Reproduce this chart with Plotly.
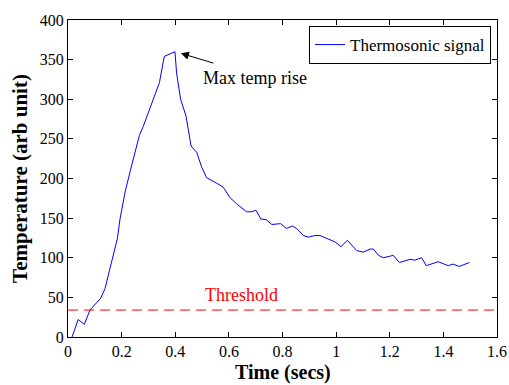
import plotly.graph_objects as go

time_s = [0.015, 0.038, 0.061, 0.082, 0.122, 0.138, 0.154, 0.169, 0.184, 0.194,
          0.213, 0.231, 0.25, 0.266, 0.281, 0.306, 0.341, 0.359, 0.399, 0.405,
          0.42, 0.44, 0.459, 0.48, 0.499, 0.517, 0.536, 0.555, 0.579, 0.604,
          0.629, 0.666, 0.685, 0.701, 0.719, 0.739, 0.76, 0.793, 0.815, 0.837,
          0.853, 0.878, 0.896, 0.921, 0.94, 0.965, 0.996, 1.018, 1.042, 1.077,
          1.101, 1.127, 1.139, 1.158, 1.176, 1.213, 1.236, 1.276, 1.294, 1.319,
          1.336, 1.381, 1.418, 1.436, 1.459, 1.497]
signal = [0, 22, 16, 34, 49, 61, 83, 103, 124, 149,
          183, 208, 233, 254, 266, 289, 321, 354, 360, 333,
          300, 279, 241, 233, 214, 201, 198, 194, 189, 176,
          168, 158, 158, 160, 149, 148, 142, 143, 137, 140,
          137, 128, 126, 128, 128, 124, 120, 114, 122, 109,
          107, 111, 111, 103, 100, 103, 94, 98, 97, 100,
          90, 95, 90, 92, 89, 94]
threshold_x = [0, 1.6]
threshold_y = [34, 34]
x_ticks = [0, 0.2, 0.4, 0.6, 0.8, 1, 1.2, 1.4, 1.6]
y_ticks = [0, 50, 100, 150, 200, 250, 300, 350, 400]

FONT = "Liberation Serif"

fig = go.Figure()
fig.add_trace(go.Scatter(x=time_s, y=signal, mode="lines", name="Thermosonic signal",
                         line=dict(color="#0000ff", width=1)))
fig.add_trace(go.Scatter(x=threshold_x, y=threshold_y, mode="lines", showlegend=False,
                         line=dict(color="#ff0000", width=1, dash="10px,6px")))

fig.add_annotation(x=0.647, y=53, text="Threshold", showarrow=False,
                   font=dict(family=FONT, size=18, color="#ff0000"))
fig.add_annotation(x=0.6975, y=327, text="Max temp rise", showarrow=False,
                   font=dict(family=FONT, size=18, color="black"))
fig.add_annotation(x=0.421, y=358, ax=0.548, ay=345, axref="x", ayref="y",
                   text="", showarrow=True, arrowhead=2, arrowsize=1.6,
                   arrowwidth=1, arrowcolor="black")
# x-axis title placed below the tick labels
fig.add_annotation(x=0.5, y=0, xref="paper", yref="paper", xanchor="center",
                   yanchor="middle", yshift=-35, borderpad=0, showarrow=False,
                   text="<b>Time (secs)</b>",
                   font=dict(family=FONT, size=20, color="black"))

axis_common = dict(showline=True, linecolor="black", linewidth=1, mirror="allticks",
                   ticks="inside", ticklen=5, tickcolor="black", showgrid=False,
                   zeroline=False, automargin=False,
                   tickfont=dict(family=FONT, size=16, color="black"))

fig.update_layout(
    width=509, height=385,
    font=dict(family=FONT, size=16, color="black"),
    margin=dict(l=68, r=12, t=20, b=48),
    paper_bgcolor="white", plot_bgcolor="white",
    xaxis=dict(range=[0, 1.6], tickvals=x_ticks, **axis_common),
    yaxis=dict(range=[0, 400], tickvals=y_ticks, **axis_common,
               title=dict(text="<b>Temperature (arb unit)</b>", font=dict(family=FONT, size=21, color="black"),
                          standoff=6)),
    legend=dict(x=0.986, y=0.981, xanchor="right", yanchor="top",
                bordercolor="black", borderwidth=1, bgcolor="white",
                font=dict(family=FONT, size=17, color="black")),
    showlegend=True,
)

fig.write_html("out.html")
